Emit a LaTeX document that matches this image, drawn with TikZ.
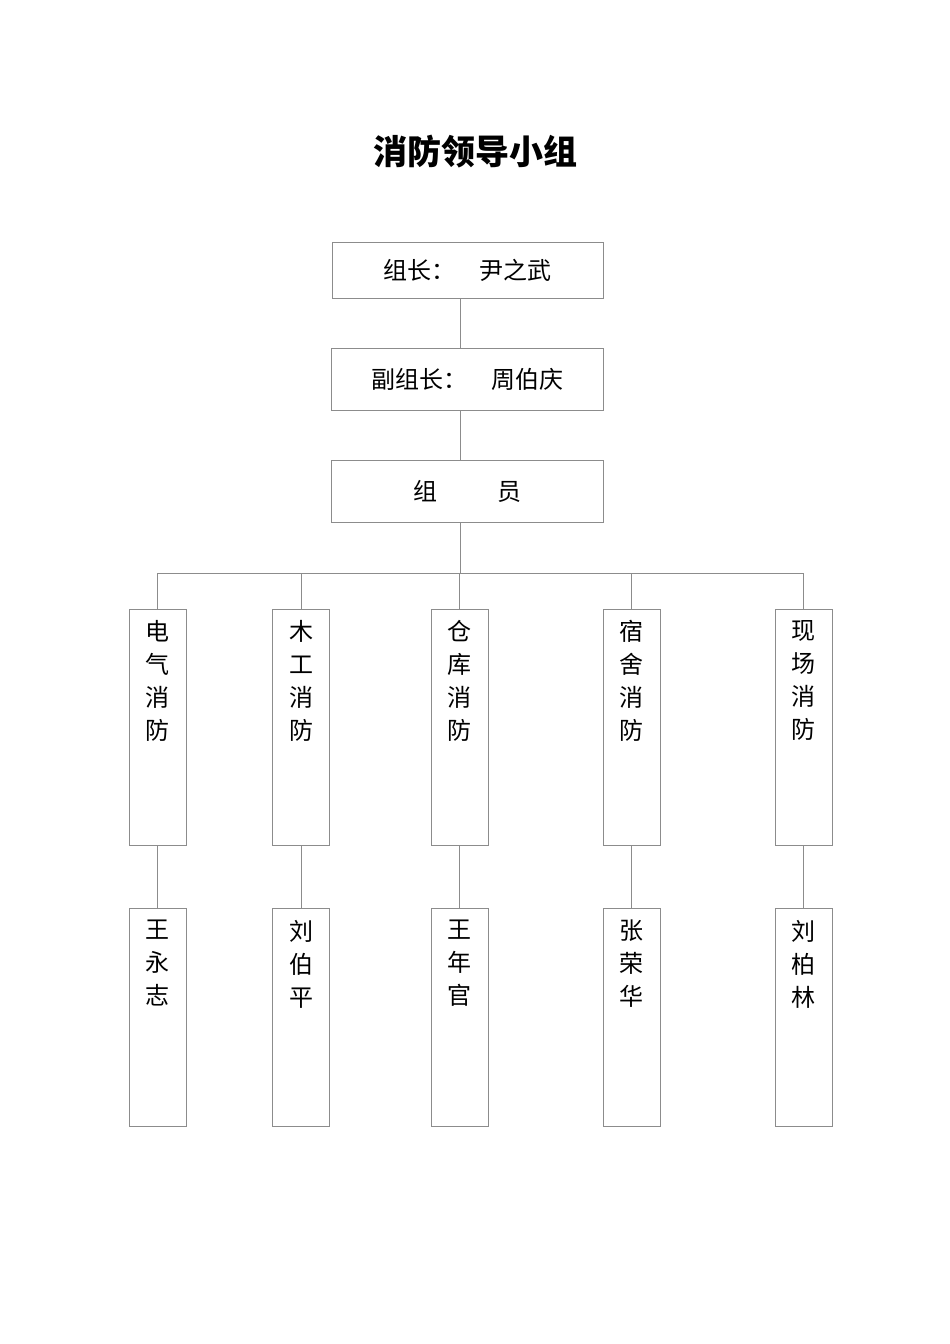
\documentclass[tikz,border=0pt]{standalone}
\usepackage{fontspec}
\setmainfont{Noto Sans CJK SC}
\begin{document}
\begin{tikzpicture}[x=1pt,y=-1pt,
  box/.style={draw=black!45,line width=0.6pt},
  ln/.style={draw=black!45,line width=0.6pt},
  vt/.style={anchor=north,align=center,font=\fontsize{24}{33}\selectfont,inner sep=0pt}]
\useasboundingbox (0,0) rectangle (950,1344);
\node[font=\fontsize{34}{40}\selectfont\bfseries] (title) at (475,152) {消防领导小组};
\node[box,minimum width=271pt,minimum height=56pt,font=\fontsize{24}{28}\selectfont] (a) at (467.5,270) {组长：\hspace{1em}尹之武};
\node[box,minimum width=272pt,minimum height=62pt,font=\fontsize{24}{28}\selectfont] (b) at (467,379) {副组长：\hspace{1em}周伯庆};
\node[box,minimum width=272pt,minimum height=62pt,font=\fontsize{24}{28}\selectfont] (c) at (467,491) {组\hspace{2.5em}员};
\coordinate (ca) at (460,298); \coordinate (cb1) at (460,348);
\coordinate (cb2) at (460,410); \coordinate (cc1) at (460,460);
\coordinate (cc2) at (460,522); \coordinate (hb) at (460,573);
\draw[ln] (ca) -- (cb1); \draw[ln] (cb2) -- (cc1); \draw[ln] (cc2) -- (hb);
\draw[ln] (158,573) coordinate (hl) -- (804,573) coordinate (hr);
\foreach \i/\x/\t/\n in {1/157.5/电\\气\\消\\防/王\\永\\志, 2/301/木\\工\\消\\防/刘\\伯\\平, 3/459.5/仓\\库\\消\\防/王\\年\\官, 4/631.5/宿\\舍\\消\\防/张\\荣\\华, 5/803.5/现\\场\\消\\防/刘\\柏\\林}{
  \node[box,minimum width=57pt,minimum height=236pt] (u\i) at (\x,727) {};
  \node[box,minimum width=57pt,minimum height=218pt] (d\i) at (\x,1017) {};
  \node[vt] (ut\i) at (\x,620) {\t};
  \node[vt] (dt\i) at (\x,920) {\n};
  \draw[ln] (\x,573) -- (u\i.north);
  \draw[ln] (u\i.south) -- (d\i.north);
}
\end{tikzpicture}
\end{document}
